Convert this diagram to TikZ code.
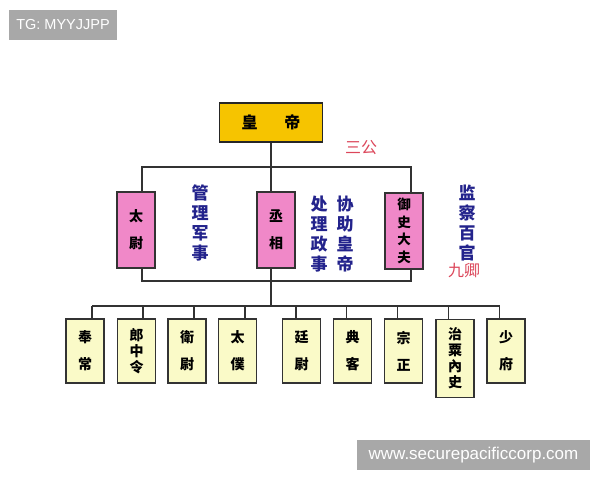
\documentclass[tikz,border=0pt]{standalone}
\usepackage{fontspec}
\setmainfont{Liberation Sans}
\newfontfamily\cjk{Noto Sans CJK SC}
\definecolor{gold}{RGB}{246,196,0}
\definecolor{pinkbox}{RGB}{240,136,200}
\definecolor{paleyel}{RGB}{250,250,200}
\definecolor{navy}{RGB}{35,35,140}
\definecolor{redlab}{RGB}{220,70,90}
\definecolor{wmgray}{RGB}{168,168,168}
\definecolor{linec}{RGB}{50,50,50}
\tikzset{
  conn/.style={draw=linec, line width=1.1pt},
  emperorbox/.style={draw=black!85, line width=1.4pt, fill=gold, minimum width=103pt, minimum height=39pt, inner sep=0pt, font=\cjk\bfseries\fontsize{16}{18}\selectfont},
  gongbox/.style={draw=black!80, line width=1.3pt, fill=pinkbox, minimum width=38pt, minimum height=76pt, inner sep=0pt, align=center, font=\cjk\bfseries\fontsize{14}{17}\selectfont},
  qingbox/.style={draw=black!80, line width=1.3pt, fill=paleyel, minimum width=38pt, minimum height=64pt, inner sep=0pt, align=center, font=\cjk\bfseries\fontsize{14}{16}\selectfont},
  bluetext/.style={text=navy, align=center, inner sep=0pt, font=\cjk\bfseries\fontsize{17}{20}\selectfont},
  redtext/.style={text=redlab, inner sep=0pt, font=\cjk\fontsize{16}{18}\selectfont},
  wmark/.style={fill=wmgray, text=white, inner sep=0pt}
}
\begin{document}
\begin{tikzpicture}[x=1pt,y=-1pt]
\useasboundingbox[fill=white] (0,0) rectangle (600,480);
% watermarks
\node[wmark, minimum width=108pt, minimum height=30pt, font=\fontsize{14.5}{17}\selectfont] (wm1) at (63,25) {TG: MYYJJPP};
\node[wmark, minimum width=233pt, minimum height=30pt, font=\fontsize{17}{20}\selectfont] (wm2) at (473.5,455) {www.securepacificcorp.com};
% emperor
\node[emperorbox] (emp) at (271,122.5) {皇\hspace{27pt}帝};
% three dukes
\node[gongbox] (taiwei) at (136,230) {太\\[10pt]尉};
\node[gongbox] (chengxiang) at (276,230) {丞\\[10pt]相};
\node[gongbox, font=\cjk\bfseries\fontsize{13.5}{17.5}\selectfont] (yushi) at (404,231) {御\\史\\大\\夫};
% nine ministers
\node[qingbox] (q1) at (85,351) {奉\\[11pt]常};
\node[qingbox] (q2) at (136.5,351) {郎\\中\\令};
\node[qingbox] (q3) at (187,351) {衛\\[11pt]尉};
\node[qingbox] (q4) at (237.5,351) {太\\[11pt]僕};
\node[qingbox] (q5) at (301.5,351) {廷\\[11pt]尉};
\node[qingbox] (q6) at (352.5,351) {典\\[11pt]客};
\node[qingbox] (q7) at (403.5,351) {宗\\[11pt]正};
\node[qingbox, minimum height=78pt, anchor=north] (q8) at (455,319) {治\\粟\\內\\史};
\node[qingbox] (q9) at (506,351) {少\\[11pt]府};
% connectors
\coordinate (tL) at (142,167);
\coordinate (tM) at (271,167);
\coordinate (tR) at (411,167);
\coordinate (mL) at (142,281);
\coordinate (mM) at (271,281);
\coordinate (mR) at (411,281);
\coordinate (bM) at (271,306);
\coordinate (bL) at (92,306);
\coordinate (bR) at (499.5,306);
\draw[conn] (emp.south -| tM) -- (tM);
\draw[conn] (tL |- taiwei.north) -- (tL) -- (tR) -- (tR |- yushi.north);
\draw[conn] (tM) -- (tM |- chengxiang.north);
\draw[conn] (tL |- taiwei.south) -- (mL) -- (mR) -- (mR |- yushi.south);
\draw[conn] (tM |- chengxiang.south) -- (mM) -- (bM);
\draw[conn] (bL) -- (bR);
\foreach \q/\x in {q1/92, q2/143, q3/194, q4/245, q5/296, q6/346.5, q7/397.5, q8/448.5, q9/499.5}{
  \draw[conn] (\x,306) -- (\x,0 |- \q.north);
}
% labels
\node[redtext] (sangong) at (361,148) {三公};
\node[bluetext] (l1) at (200,223) {管\\理\\军\\事};
\node[bluetext] (l2) at (319,234) {处\\理\\政\\事};
\node[bluetext] (l3) at (345,234) {协\\助\\皇\\帝};
\node[bluetext] (l4) at (467,223) {监\\察\\百\\官};
\node[redtext] (jiuqing) at (464,271) {九卿};
\end{tikzpicture}
\end{document}
